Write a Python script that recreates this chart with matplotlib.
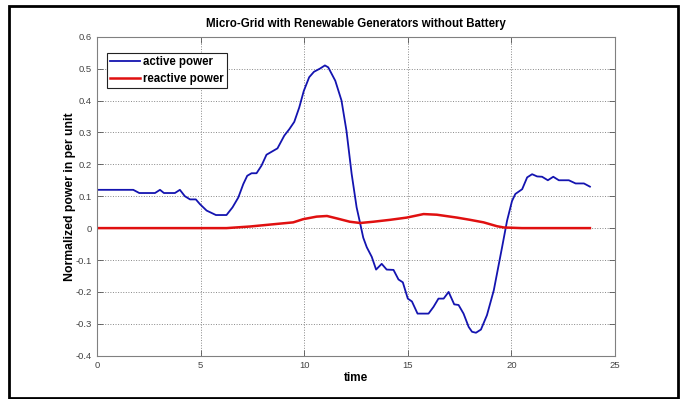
import matplotlib
matplotlib.use("Agg")
import matplotlib.pyplot as plt
from matplotlib.patches import Rectangle
from matplotlib.ticker import FormatStrFormatter

plt.rcParams['font.family'] = ['Liberation Sans', 'DejaVu Sans']

# active power (blue)
t_active = [0, 1.75, 2.04, 2.8, 3.04, 3.23, 3.76, 4.0, 4.24, 4.49, 4.77, 4.97,
            5.29, 5.74, 6.25, 6.54, 6.82, 7.06, 7.25, 7.46, 7.7, 7.94, 8.18,
            8.71, 9.04, 9.28, 9.52, 9.76, 9.98, 10.24, 10.47, 10.76, 11.0, 11.16,
            11.5, 11.8, 12.04, 12.29, 12.53, 12.69, 12.85, 13.02, 13.26, 13.47,
            13.74, 13.98, 14.31, 14.55, 14.76, 15.0, 15.2, 15.47, 16.0, 16.24,
            16.48, 16.73, 16.97, 17.24, 17.45, 17.69, 17.94, 18.1, 18.29, 18.53,
            18.82, 19.15, 19.55, 19.79, 20.03, 20.19, 20.52, 20.76, 21.0, 21.24,
            21.48, 21.76, 22.02, 22.29, 22.77, 23.1, 23.5, 23.79]
p_active = [0.12, 0.12, 0.11, 0.11, 0.12, 0.11, 0.11, 0.12, 0.10, 0.09, 0.09, 0.075,
            0.055, 0.041, 0.041, 0.065, 0.096, 0.138, 0.164, 0.172, 0.172, 0.196, 0.23,
            0.25, 0.29, 0.31, 0.333, 0.378, 0.43, 0.473, 0.49, 0.50, 0.51, 0.504,
            0.462, 0.40, 0.305, 0.17, 0.065, 0.018, -0.03, -0.06, -0.09, -0.13,
            -0.112, -0.13, -0.131, -0.161, -0.17, -0.221, -0.23, -0.268, -0.268, -0.247,
            -0.221, -0.221, -0.2, -0.239, -0.241, -0.268, -0.31, -0.325, -0.328, -0.318,
            -0.273, -0.195, -0.06, 0.023, 0.085, 0.107, 0.122, 0.159, 0.169, 0.162,
            0.161, 0.15, 0.161, 0.15, 0.15, 0.14, 0.14, 0.13]

# reactive power (red)
t_reactive = [0, 6.25, 7.38, 8.5, 9.47, 9.95, 10.6, 11.1, 11.6, 12.2, 12.7, 13.34,
              14.15, 14.95, 15.76, 16.4, 17.37, 18.0, 18.66, 19.3, 19.63, 20.5, 23.79]
p_reactive = [0, 0, 0.005, 0.012, 0.018, 0.028, 0.036, 0.038, 0.03, 0.02, 0.016, 0.02,
              0.026, 0.033, 0.044, 0.042, 0.033, 0.026, 0.018, 0.006, 0.002, 0, 0]

fig = plt.figure(figsize=(6.86, 3.99), dpi=100)
ax = fig.add_axes([0.1414, 0.1085, 0.7551, 0.7995])

ax.plot(t_active, p_active, color='#1414b0', lw=1.3, label='active power')
ax.plot(t_reactive, p_reactive, color='#e01010', lw=1.8, label='reactive power')

ax.set_xlim(0, 25)
ax.set_ylim(-0.4, 0.6)
ax.set_xticks([0, 5, 10, 15, 20, 25])
ax.set_yticks([-0.4, -0.3, -0.2, -0.1, 0, 0.1, 0.2, 0.3, 0.4, 0.5, 0.6])
ax.yaxis.set_major_formatter(FormatStrFormatter('%g'))
ax.tick_params(direction='in', length=4, width=0.6, color='#555555',
               labelsize=6.8, labelcolor='#444444', top=True, right=True)
ax.grid(True, linestyle=':', color='#888888', lw=0.7)
for s in ax.spines.values():
    s.set_color('#808080')
    s.set_linewidth(0.8)

ax.set_title('Micro-Grid with Renewable Generators without Battery',
             fontsize=8.3, fontweight='bold', pad=7)
ax.set_xlabel('time', fontsize=8.5, fontweight='bold', labelpad=2)
ax.set_ylabel('Normalized power in per unit', fontsize=8.8, fontweight='bold', labelpad=0)

leg = ax.legend(loc='upper left', bbox_to_anchor=(0.019, 0.95),
                prop={'size': 8.3, 'weight': 'bold'},
                fancybox=False, framealpha=1, borderaxespad=0, borderpad=0.3,
                handlelength=2.6, handletextpad=0.2, labelspacing=0.4)
leg.get_frame().set_edgecolor('#222222')
leg.get_frame().set_linewidth(0.8)

fig.patches.append(Rectangle((0.0131, 0.003), 0.975, 0.982, transform=fig.transFigure,
                             fill=False, edgecolor='black', lw=2))

fig.savefig('out.png', dpi=100)
